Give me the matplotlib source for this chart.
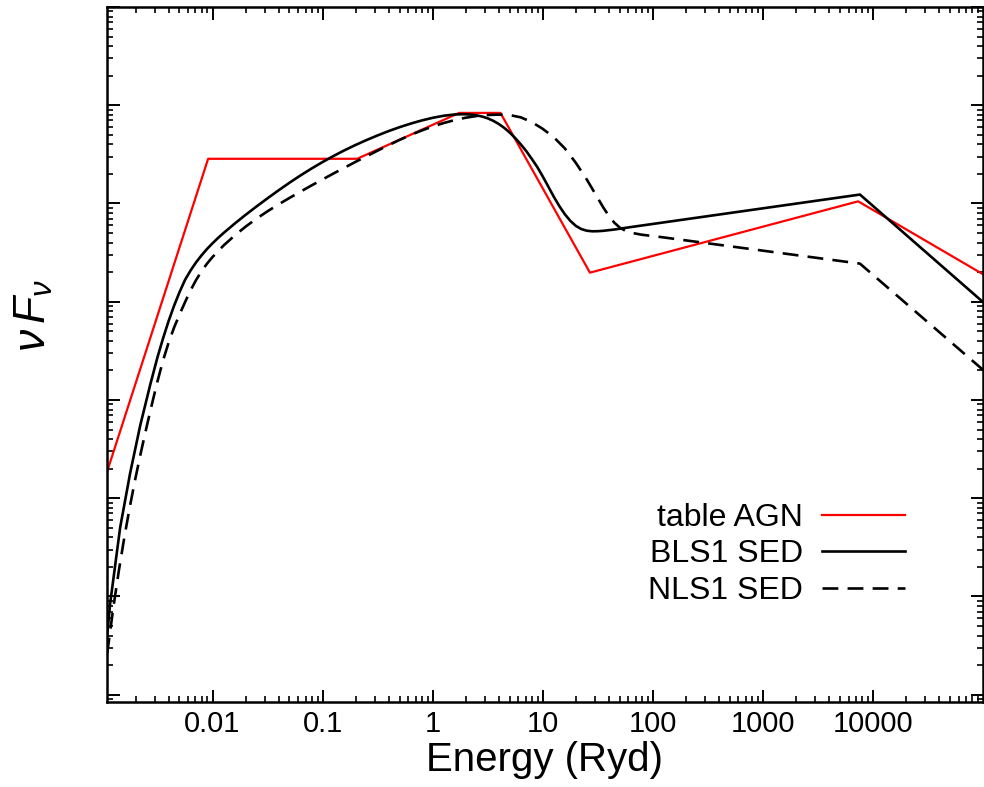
import numpy as np
import matplotlib
matplotlib.use("Agg")
import matplotlib.pyplot as plt
from matplotlib.ticker import FixedLocator, LogLocator, NullFormatter, FixedFormatter

plt.rcParams['font.family'] = ['Liberation Sans', 'DejaVu Sans']
plt.rcParams['mathtext.fontset'] = 'custom'
plt.rcParams['mathtext.it'] = 'Liberation Sans:italic'
plt.rcParams['mathtext.rm'] = 'Liberation Sans'

# ---- data (log10 energy in Ryd, log10 nuFnu in arbitrary units) ----
agn_log_energy = [-2.957, -2.040, -0.686, 0.241, 0.616, 1.429, 3.866, 5.006]
agn_log_nufnu = [-3.727, -0.545, -0.545, -0.078, -0.078, -1.704, -0.978, -1.724]

bls1_log_energy = [-2.957, -2.930, -2.839, -2.748, -2.657, -2.566, -2.50, -2.45,
                   -2.40, -2.35, -2.30, -2.25, -2.20, -2.15, -2.10, -2.05, -2.00,
                   -1.95, -1.90, -1.80, -1.70, -1.60, -1.50, -1.40, -1.30, -1.20,
                   -1.10, -1.00, -0.90, -0.80, -0.70, -0.60, -0.50, -0.40, -0.30,
                   -0.20, -0.10, 0.00, 0.10, 0.20, 0.25, 0.30, 0.35, 0.40, 0.45,
                   0.50, 0.55, 0.60, 0.65, 0.70, 0.75, 0.80, 0.85, 0.90, 0.95,
                   1.00, 1.05, 1.10, 1.15, 1.20, 1.25, 1.30, 1.35, 1.40, 1.45,
                   1.50, 1.55, 1.65, 1.80, 3.882, 5.006]
bls1_log_nufnu = [-5.397, -5.071, -4.297, -3.742, -3.260, -2.845, -2.565, -2.375,
                  -2.200, -2.043, -1.903, -1.778, -1.683, -1.600, -1.528, -1.463,
                  -1.405, -1.351, -1.301, -1.206, -1.116, -1.030, -0.947, -0.866,
                  -0.788, -0.714, -0.644, -0.578, -0.516, -0.458, -0.404, -0.354,
                  -0.307, -0.263, -0.223, -0.187, -0.155, -0.128, -0.107, -0.094,
                  -0.092, -0.092, -0.095, -0.103, -0.115, -0.133, -0.158, -0.190,
                  -0.230, -0.278, -0.334, -0.397, -0.466, -0.545, -0.628, -0.724,
                  -0.827, -0.930, -1.025, -1.108, -1.176, -1.227, -1.260, -1.277,
                  -1.283, -1.282, -1.278, -1.265, -1.240, -0.909, -2.009]

nls1_log_energy = [-2.957, -2.90, -2.85, -2.80, -2.75, -2.70, -2.65, -2.60, -2.55,
                   -2.50, -2.45, -2.40, -2.35, -2.30, -2.25, -2.20, -2.15, -2.10,
                   -2.05, -2.00, -1.90, -1.80, -1.70, -1.60, -1.50, -1.40, -1.30,
                   -1.20, -1.10, -1.00, -0.90, -0.80, -0.70, -0.60, -0.50, -0.40,
                   -0.30, -0.20, -0.10, 0.00, 0.10, 0.20, 0.30, 0.40, 0.50, 0.60,
                   0.65, 0.70, 0.80, 0.90, 1.00, 1.10, 1.20, 1.30, 1.40, 1.50,
                   1.55, 1.60, 1.65, 1.70, 1.75, 1.80, 1.90, 2.07, 3.882, 5.006]
nls1_log_nufnu = [-5.58, -5.105, -4.73, -4.39, -4.08, -3.795, -3.53, -3.28, -3.04,
                  -2.81, -2.60, -2.42, -2.265, -2.13, -2.005, -1.885, -1.780,
                  -1.690, -1.612, -1.545, -1.428, -1.327, -1.236, -1.154, -1.079,
                  -1.009, -0.943, -0.879, -0.816, -0.755, -0.694, -0.635, -0.576,
                  -0.519, -0.462, -0.406, -0.3525, -0.3025, -0.257, -0.2165,
                  -0.181, -0.151, -0.127, -0.1095, -0.099, -0.0955, -0.0955,
                  -0.100, -0.123, -0.171, -0.240, -0.325, -0.438, -0.585, -0.755,
                  -0.945, -1.040, -1.125, -1.195, -1.245, -1.277, -1.297, -1.318,
                  -1.341, -1.612, -2.699]

xtick_values = [0.01, 0.1, 1, 10, 100, 1000, 10000]
xtick_labels = ['0.01', '0.1', '1', '10', '100', '1000', '10000']
labels = ['table AGN', 'BLS1 SED', 'NLS1 SED']

# ---- figure ----
W, H = 984, 787
fig = plt.figure(figsize=(W / 100, H / 100), dpi=100)
ax = fig.add_axes([107 / W, 1 - 702 / H, (983 - 107) / W, (702 - 7) / H])

l1, = ax.plot(10 ** np.array(agn_log_energy), 10 ** np.array(agn_log_nufnu),
              color='#ff0000', lw=1.6)
l2, = ax.plot(10 ** np.array(bls1_log_energy), 10 ** np.array(bls1_log_nufnu),
              color='black', lw=1.9)
l3, = ax.plot(10 ** np.array(nls1_log_energy), 10 ** np.array(nls1_log_nufnu),
              color='black', lw=1.9, dashes=(6, 3.5))

ax.set_xscale('log')
ax.set_yscale('log')
ax.set_xlim(1.1e-3, 1.0e5)
ax.set_ylim(10 ** -6.074, 10 ** 1.0)

ax.xaxis.set_major_locator(FixedLocator(xtick_values))
ax.xaxis.set_major_formatter(FixedFormatter(xtick_labels))
ax.xaxis.set_minor_locator(LogLocator(base=10, subs=np.arange(2, 10), numticks=50))
ax.xaxis.set_minor_formatter(NullFormatter())
ax.yaxis.set_major_locator(LogLocator(base=10, numticks=50))
ax.yaxis.set_minor_locator(LogLocator(base=10, subs=np.arange(2, 10), numticks=50))
ax.yaxis.set_major_formatter(NullFormatter())
ax.yaxis.set_minor_formatter(NullFormatter())

ax.tick_params(which='both', direction='in', top=True, right=True)
ax.tick_params(which='major', length=9, width=1.4, labelsize=21, pad=6)
ax.tick_params(which='minor', length=4.5, width=1.2)
for s in ax.spines.values():
    s.set_linewidth(1.8)

ax.set_xlabel('Energy (Ryd)', fontsize=29, labelpad=2)
fig.text(34 / W, 1 - 316 / H, r'$\nu\,F_{\nu}$', rotation=90, fontsize=32,
         ha='center', va='center')

ax.legend([l1, l2, l3], labels, loc='upper right',
          bbox_to_anchor=((905 - 107) / 876, (702 - 503) / 695),
          markerfirst=False, frameon=False, fontsize=23, handlelength=2.6,
          handletextpad=0.6, labelspacing=0.2, borderpad=0, borderaxespad=0)

fig.savefig('out.png', dpi=100)
